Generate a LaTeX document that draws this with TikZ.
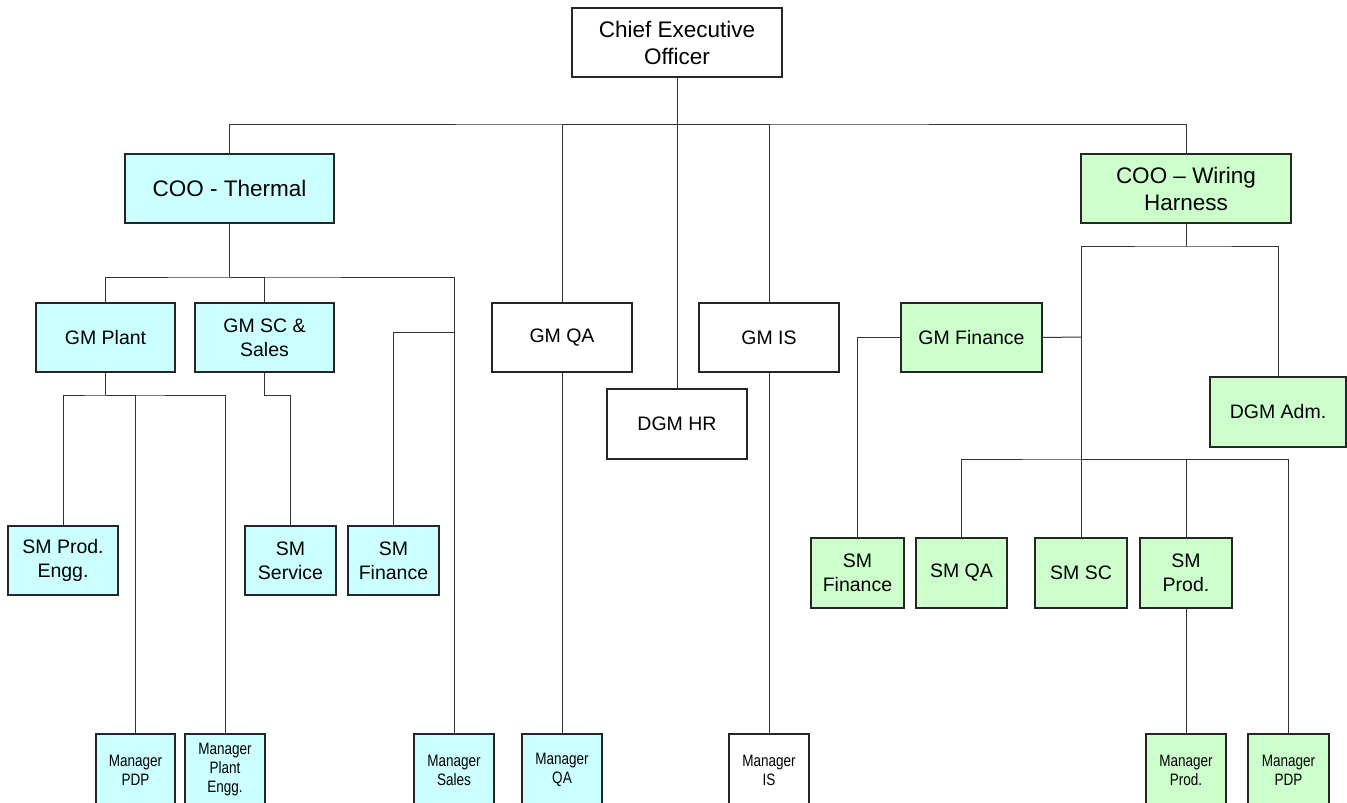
\documentclass[tikz,border=0pt]{standalone}
\usepackage{fontspec}
\setmainfont{Liberation Sans}
\newfontfamily\narrowfont[FakeStretch=0.82]{Liberation Sans}
\definecolor{thermalfill}{HTML}{CCFFFF}
\definecolor{wiringfill}{HTML}{CCFFCC}
\tikzset{
  box/.style={draw=black!85,line width=1.1pt,fill=white,align=center,inner sep=0pt,
    minimum height=69pt,font=\fontsize{19.5}{24}\selectfont},
  topbox/.style={box,font=\fontsize{22.5}{27}\selectfont},
  mgr/.style={box,minimum width=80pt,minimum height=72pt,font=\narrowfont\fontsize{16.5}{19}\selectfont},
  thermal/.style={fill=thermalfill},
  wiring/.style={fill=wiringfill},
  link/.style={draw=black!80,line width=1pt}
}
\begin{document}
\begin{tikzpicture}[x=1pt,y=-1pt]
\useasboundingbox (0,0) rectangle (1347,803);
\node[topbox,minimum width=210pt] (ceo) at (677,42.5) {Chief Executive\\Officer};
\node[topbox,thermal,minimum width=209pt] (cooT) at (229.5,188.5) {COO - Thermal};
\node[topbox,wiring,minimum width=210pt] (cooW) at (1186,188.5) {COO – Wiring\\Harness};

\node[box,thermal,minimum width=139pt] (gmPlant) at (105.5,337.5) {GM Plant};
\node[box,thermal,minimum width=139pt] (gmSC) at (264.5,337.5) {GM SC \&\\Sales};
\node[box,minimum width=140pt] (gmQA) at (562,337.5) {GM QA};
\node[box,minimum width=140pt] (gmIS) at (769,337.5) {GM IS};
\node[box,wiring,minimum width=141pt] (gmFin) at (971.5,337.5) {GM Finance};
\node[box,minimum width=140pt,minimum height=70pt] (dgmHR) at (677,424) {DGM HR};
\node[box,wiring,minimum width=136pt,minimum height=70pt] (dgmAdm) at (1278,412) {DGM Adm.};

\node[box,thermal,minimum width=110pt] (smProdEngg) at (63,560.5) {SM Prod.\\Engg.};
\node[box,thermal,minimum width=91pt] (smService) at (290.5,560.5) {SM\\Service};
\node[box,thermal,minimum width=91pt] (smFinT) at (393.5,560.5) {SM\\Finance};
\node[box,wiring,minimum width=93pt,minimum height=70pt] (smFinW) at (857.5,573) {SM\\Finance};
\node[box,wiring,minimum width=91pt,minimum height=70pt] (smQA) at (961.5,573) {SM QA};
\node[box,wiring,minimum width=92pt,minimum height=70pt] (smSC) at (1081,573) {SM SC};
\node[box,wiring,minimum width=92pt,minimum height=70pt] (smProd) at (1186,573) {SM\\Prod.};

\node[mgr,thermal,minimum width=79pt] (mgrPDP) at (135.5,770) {Manager\\PDP};
\node[mgr,thermal] (mgrPlant) at (225,770) {Manager\\Plant\\Engg.};
\node[mgr,thermal] (mgrSales) at (454,770) {Manager\\Sales};
\node[mgr,thermal] (mgrQA) at (562,770) {Manager\\QA};
\node[mgr] (mgrIS) at (769,770) {Manager\\IS};
\node[mgr,wiring] (mgrProd) at (1186,770) {Manager\\Prod.};
\node[mgr,wiring,minimum width=81pt] (mgrPDPW) at (1288.5,770) {Manager\\PDP};

\coordinate (busTop) at (677,124);
\coordinate (busT) at (229.5,277);
\coordinate (busP) at (105.5,395);
\coordinate (jFinT) at (454,332);
\coordinate (busW) at (1186,246);
\coordinate (jFinW) at (1081,337);
\coordinate (busS) at (1081,459);

\draw[link] (ceo.south) -- (dgmHR.north);
\draw[link] (cooT.north) |- (busTop) -| (cooW.north);
\draw[link] (gmQA.north) |- (busTop);
\draw[link] (gmIS.north) |- (busTop);

\draw[link] (cooT.south) -- (busT);
\draw[link] (gmPlant.north) |- (busT) -| (mgrSales.north);
\draw[link] (gmSC.north) |- (busT);
\draw[link] (smFinT.north) |- (jFinT);
\draw[link] (gmPlant.south) -- (busP);
\draw[link] (smProdEngg.north) |- (busP) -| (mgrPlant.north);
\draw[link] (mgrPDP.north) |- (busP);
\draw[link] (gmSC.south) -- ++(0,23) -| (smService.north);
\draw[link] (gmQA.south) -- (mgrQA.north);
\draw[link] (gmIS.south) -- (mgrIS.north);

\draw[link] (cooW.south) -- (busW);
\draw[link] (smSC.north) |- (busW) -| (dgmAdm.north);
\draw[link] (gmFin.east) -- (jFinW);
\draw[link] (gmFin.west) -| (smFinW.north);
\draw[link] (smQA.north) |- (busS) -| (mgrPDPW.north);
\draw[link] (smProd.north) |- (busS);
\draw[link] (smProd.south) -- (mgrProd.north);
\end{tikzpicture}
\end{document}
